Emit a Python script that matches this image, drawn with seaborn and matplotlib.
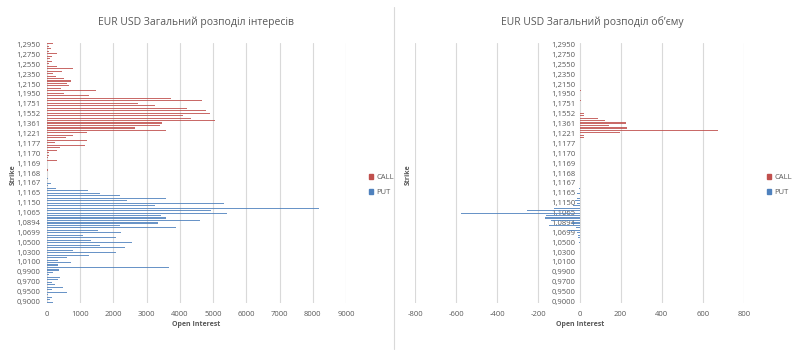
import matplotlib
matplotlib.use("Agg")
import matplotlib.pyplot as plt
import pandas as pd
import seaborn as sns
from matplotlib.lines import Line2D
from matplotlib.patches import Patch

# visible strike labels (every 4th row of the category axis, top to bottom)
STRIKE_LABELS = [
    "1,2950", "1,2750", "1,2550", "1,2350", "1,2150", "1,1950", "1,1751",
    "1,1552", "1,1361", "1,1221", "1,1177", "1,1170", "1,1169", "1,1168",
    "1,1167", "1,1165", "1,1150", "1,1065", "1,0894", "1,0699", "1,0500",
    "1,0300", "1,0100", "0,9900", "0,9700", "0,9500", "0,9000",
]

# open interest per row (105 rows, top to bottom)
OI_CALL = [
    190, 60, 110, 70, 290, 140, 100, 140, 60, 290,
    770, 440, 170, 260, 520, 710, 590, 660, 430, 1460,
    500, 1250, 3720, 4670, 2750, 3260, 4220, 4800, 4920, 4080,
    4340, 5060, 3460, 3410, 2640, 3590, 1190, 770, 570, 1190,
    250, 1140, 390, 290, 60, 50, 40, 290, 0, 0,
    0, 30, 0, 0, 0, 0, 0, 0, 0, 0,
    0, 0, 0, 0, 0, 0, 0, 0, 0, 0,
    0, 0, 0, 0, 0, 0, 0, 0, 0, 0,
    0, 0, 0, 0, 0, 0, 0, 0, 0, 0,
    0, 0, 0, 0, 0, 0, 0, 0, 0, 0,
    0, 0, 0, 0, 0,
]
OI_PUT = [
    0, 0, 0, 0, 0, 0, 0, 0, 0, 0,
    0, 0, 0, 0, 0, 0, 0, 0, 0, 0,
    0, 0, 0, 0, 0, 0, 0, 0, 0, 0,
    0, 0, 0, 0, 0, 0, 0, 0, 0, 0,
    0, 0, 0, 0, 0, 0, 0, 0, 0, 0,
    0, 0, 0, 0, 30, 0, 110, 40, 270, 1220,
    1610, 2190, 3590, 2420, 5330, 3240, 8190, 4940, 5420, 3440,
    3590, 4610, 3350, 2190, 3890, 1540, 2240, 1090, 2070, 1310,
    2570, 1590, 2340, 770, 2070, 1250, 590, 340, 730, 340,
    3670, 370, 190, 70, 390, 320, 140, 240, 490, 140,
    590, 20, 150, 90, 170,
]

# volume per row (PUT shown as negative)
VOL_CALL = [
    0, 0, 0, 0, 0, 0, 0, 0, 0, 0,
    0, 0, 0, 0, 0, 0, 0, 0, 0, 5,
    0, 0, 0, 5, 0, 0, 0, 0, 20, 24,
    89, 122, 224, 143, 233, 672, 195, 21, 20, 0,
    0, 3, 0, 0, 0, 0, 0, 0, 0, 0,
    0, 0, 0, 0, 0, 0, 0, 0, 0, 0,
    0, 0, 0, 0, 0, 0, 0, 0, 0, 0,
    0, 0, 0, 0, 0, 0, 0, 0, 0, 0,
    0, 0, 0, 0, 0, 0, 0, 0, 0, 0,
    0, 0, 0, 0, 0, 0, 0, 0, 0, 0,
    0, 0, 0, 0, 0,
]
VOL_PUT = [
    0, 0, 0, 0, 0, 0, 0, 0, 0, 0,
    0, 0, 0, 0, 0, 0, 0, 0, 0, 0,
    0, 0, 0, 0, 0, 0, 0, 0, 0, 0,
    0, 0, 0, 0, 0, 0, 0, 0, 0, 0,
    0, 0, 0, 0, 0, 0, 0, 0, 0, 0,
    0, 0, 0, 0, 0, 0, 0, 0, -3, 0,
    -13, 0, -11, -24, -13, -33, -122, -254, -575, -163,
    -166, -138, -36, -146, -16, -57, -13, -7, -5, 0,
    -4, 0, 0, 0, 0, 0, 0, 0, 0, 0,
    0, 0, 0, 0, 0, 0, 0, 0, 0, 0,
    0, 0, 0, 0, 0,
]

OI_TICKS = [0, 1000, 2000, 3000, 4000, 5000, 6000, 7000, 8000, 9000]
VOL_TICKS = [-800, -600, -400, -200, 0, 200, 400, 600, 800]

PALETTE = {"CALL": "#C0504D", "PUT": "#4F81BD"}
TEXT = "#595959"
GRID = "#D9D9D9"


def long_frame(call: list, put: list) -> pd.DataFrame:
    n = len(call)
    return pd.DataFrame({
        "row": list(range(n)) * 2,
        "type": ["CALL"] * n + ["PUT"] * n,
        "value": call + put,
    })


def draw_panel(ax, df: pd.DataFrame, xticks: list, xlim: tuple,
               center_axis: bool = False) -> None:
    sns.barplot(
        data=df, x="value", y="row", hue="type", orient="h",
        palette=PALETTE, width=0.9, dodge=True, errorbar=None,
        saturation=1, legend=False, linewidth=0, alpha=0.85, ax=ax,
    )
    for spine in ax.spines.values():
        spine.set_visible(False)
    if center_axis:
        ax.spines["left"].set_position(("data", 0))
    ax.set_xlim(*xlim)
    ax.set_xticks(xticks)
    ax.set_xticklabels([str(t) for t in xticks], color=TEXT, fontsize=5.5)
    ax.set_yticks(range(0, 105, 4))
    ax.set_yticklabels(STRIKE_LABELS, color=TEXT, fontsize=5.5)
    ax.set_ylim(104.6, -0.6)
    ax.set_xlabel("")
    ax.set_ylabel("")
    ax.tick_params(length=0)
    ax.tick_params(axis="x", pad=6)
    ax.tick_params(axis="y", pad=3 if center_axis else 5)
    ax.grid(axis="x", color=GRID, linewidth=0.8)
    ax.grid(axis="y", visible=False)
    ax.set_axisbelow(True)


def add_legend(fig, x: float) -> None:
    handles = [Patch(color=PALETTE["CALL"], label="CALL"),
               Patch(color=PALETTE["PUT"], label="PUT")]
    fig.legend(
        handles=handles, loc="center left", bbox_to_anchor=(x, 1 - 185 / 356),
        frameon=False, fontsize=5.5, handlelength=0.6, handleheight=0.6,
        handletextpad=0.4, labelspacing=1.0, labelcolor=TEXT,
    )


def main() -> None:
    sns.set_theme(style="white")
    plt.rcParams["font.family"] = ["Open Sans", "DejaVu Sans"]
    plt.rcParams["axes.unicode_minus"] = False

    fig = plt.figure(figsize=(8, 3.56), dpi=100)
    ax1 = fig.add_axes([47 / 800, 1 - 303 / 356, 299 / 800, 260 / 356])
    ax2 = fig.add_axes([415 / 800, 1 - 303 / 356, 329 / 800, 260 / 356])

    draw_panel(ax1, long_frame(OI_CALL, OI_PUT), OI_TICKS, (0, 9000))
    draw_panel(ax2, long_frame(VOL_CALL, VOL_PUT), VOL_TICKS, (-800, 800),
               center_axis=True)

    fig.text(196 / 800, 1 - 22 / 356, "EUR USD Загальний розподіл інтересів",
             ha="center", va="center", fontsize=7.5, color=TEXT)
    fig.text(592 / 800, 1 - 22 / 356, "EUR USD Загальний розподіл об’єму",
             ha="center", va="center", fontsize=7.5, color=TEXT)

    for cx in (196, 580):
        fig.text(cx / 800, 1 - 324 / 356, "Open Interest", ha="center",
                 va="center", fontsize=5, fontweight="bold", color=TEXT)
    for sx in (13, 408):
        fig.text(sx / 800, 1 - 175 / 356, "Strike", ha="center", va="center",
                 rotation=90, fontsize=5, fontweight="bold", color=TEXT)

    add_legend(fig, 362 / 800)
    add_legend(fig, 760 / 800)

    fig.add_artist(Line2D([394 / 800, 394 / 800], [0.02, 0.98],
                          color=GRID, linewidth=0.8))

    fig.savefig("out.png", dpi=100)
    plt.close(fig)


if __name__ == "__main__":
    main()
